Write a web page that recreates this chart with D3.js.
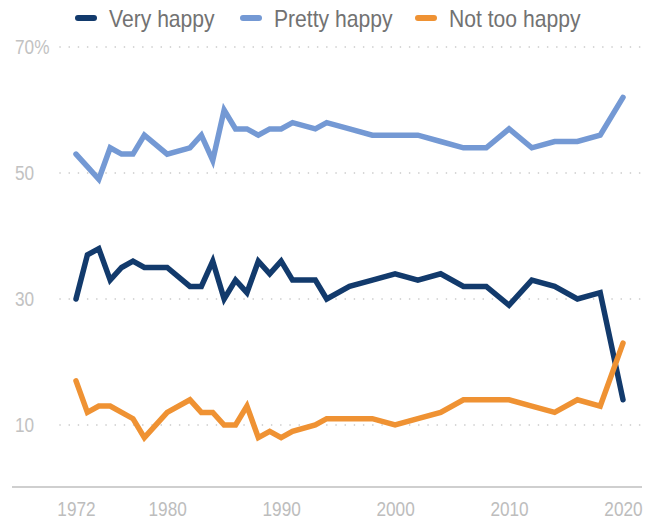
<!DOCTYPE html>
<html>
<head>
<meta charset="utf-8">
<script src="https://cdn.jsdelivr.net/npm/d3@7"></script>
<style>
  body { margin: 0; background: #fff; }
  text { font-family: "Liberation Sans Narrow", "Arial Narrow", "Liberation Sans", sans-serif; }
</style>
</head>
<body>
<div id="vis"></div>
<script>
var years = [1972, 1973, 1974, 1975, 1976, 1977, 1978, 1980, 1982, 1983, 1984, 1985, 1986, 1987, 1988, 1989, 1990, 1991, 1993, 1994, 1996, 1998, 2000, 2002, 2004, 2006, 2008, 2010, 2012, 2014, 2016, 2018, 2020];

var veryHappy = [30, 37, 38, 33, 35, 36, 35, 35, 32, 32, 36, 30, 33, 31, 36, 34, 36, 33, 33, 30, 32, 33, 34, 33, 34, 32, 32, 29, 33, 32, 30, 31, 14];
var prettyHappy = [53, 51, 49, 54, 53, 53, 56, 53, 54, 56, 52, 60, 57, 57, 56, 57, 57, 58, 57, 58, 57, 56, 56, 56, 55, 54, 54, 57, 54, 55, 55, 56, 62];
var notTooHappy = [17, 12, 13, 13, 12, 11, 8, 12, 14, 12, 12, 10, 10, 13, 8, 9, 8, 9, 10, 11, 11, 11, 10, 11, 12, 14, 14, 14, 13, 12, 14, 13, 23];

var seriesNames = ['Very happy', 'Pretty happy', 'Not too happy'];
var yTicks = [10, 30, 50, 70];
var xTicks = [1972, 1980, 1990, 2000, 2010, 2020];

var width = 656,
    height = 519;

var colors = ['#123a6c', '#7499d4', '#ef9233'];
var allSeries = [veryHappy, prettyHappy, notTooHappy];

var xScale = d3.scaleLinear()
  .domain([1972, 2020])
  .range([76, 623]);

var yScale = d3.scaleLinear()
  .domain([0, 70])
  .range([488, 47]);

var svg = d3.select('#vis')
  .append('svg')
    .attr('width', width)
    .attr('height', height);

// squeeze text a bit, no narrow font installed
function narrow(sel, k) {
  sel.each(function() {
    var w = this.getComputedTextLength();
    d3.select(this)
      .attr('textLength', w * k)
      .attr('lengthAdjust', 'spacingAndGlyphs');
  });
}

// dotted gridlines
svg.selectAll('.grid')
  .data(yTicks)
  .enter()
  .append('line')
    .attr('x1', 60)
    .attr('x2', 642)
    .attr('y1', function(d) { return yScale(d); })
    .attr('y2', function(d) { return yScale(d); })
    .attr('stroke', '#c4c4c4')
    .attr('stroke-width', 1.6)
    .attr('stroke-linecap', 'round')
    .attr('stroke-dasharray', '0.1 9.1');

svg.selectAll('.ylab')
  .data(yTicks)
  .enter()
  .append('text')
    .attr('x', 15)
    .attr('y', function(d) { return yScale(d); })
    .attr('dy', '0.36em')
    .attr('font-size', 20)
    .attr('fill', '#c2c2c2')
    .text(function(d) { return d === 70 ? d + '%' : d; })
    .call(narrow, 0.86);

// baseline
svg.append('line')
  .attr('x1', 12)
  .attr('x2', 642)
  .attr('y1', 487)
  .attr('y2', 487)
  .attr('stroke', '#cfcfcf')
  .attr('stroke-width', 2);

var xAxis = d3.axisBottom(xScale)
  .tickValues(xTicks)
  .tickFormat(d3.format('d'))
  .tickSize(0)
  .tickPadding(0);

var gx = svg.append('g')
  .attr('transform', 'translate(0,502)')
  .call(xAxis);
gx.select('.domain').remove();
gx.selectAll('text')
  .attr('font-size', 20)
  .attr('font-family', null)
  .attr('fill', '#bdbdbd')
  .call(narrow, 0.86);

var line = d3.line()
  .x(function(d, i) { return xScale(years[i]); })
  .y(function(d) { return yScale(d); });

svg.selectAll('.series')
  .data(allSeries)
  .enter()
  .append('path')
    .attr('d', function(d) { return line(d); })
    .attr('fill', 'none')
    .attr('stroke', function(d, i) { return colors[i]; })
    .attr('stroke-width', 5.5)
    .attr('stroke-linejoin', 'miter')
    .attr('stroke-linecap', 'round');

// legend
var legendX = [78, 243, 418];
var legend = svg.selectAll('.legend')
  .data(seriesNames)
  .enter()
  .append('g')
    .attr('transform', function(d, i) { return 'translate(' + legendX[i] + ',18)'; });

legend.append('line')
  .attr('x1', 0)
  .attr('x2', 16)
  .attr('stroke', function(d, i) { return colors[i]; })
  .attr('stroke-width', 6)
  .attr('stroke-linecap', 'round');

legend.append('text')
  .attr('x', 31)
  .attr('dy', '0.36em')
  .attr('font-size', 24)
  .attr('fill', '#727272')
  .text(function(d) { return d; })
  .call(narrow, 0.88);
</script>
</body>
</html>
